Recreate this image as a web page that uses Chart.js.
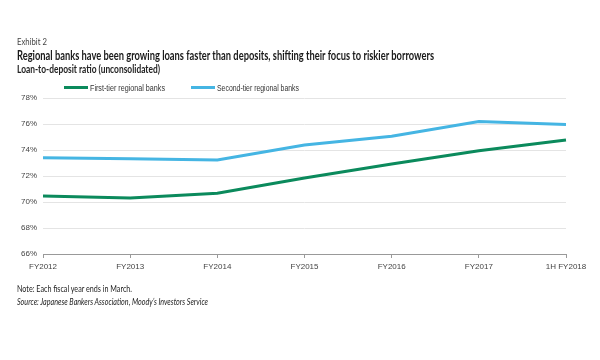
<!DOCTYPE html>
<html><head><meta charset="utf-8">
<script src="https://cdn.jsdelivr.net/npm/chart.js@4"></script>
<style>
html,body{margin:0;padding:0;background:#fff;}
#wrap{position:relative;width:600px;height:360px;overflow:hidden;}
canvas{position:absolute;left:0;top:0;}
.t{position:absolute;left:17px;white-space:nowrap;font-family:Lato,"Open Sans",sans-serif;color:#1a1a1a;transform-origin:0 0;}
#ex{top:36px;font-size:9px;color:#444;}
#title{top:47px;font-size:13px;font-weight:bold;}
#sub{top:63px;font-size:10.5px;font-weight:bold;color:#222;}
#note{top:283px;font-size:9.5px;color:#222;}
#src{top:296px;font-size:9.5px;font-style:italic;color:#222;}
.lg{position:absolute;top:83px;font-family:"Liberation Sans",Arial,sans-serif;font-size:9px;color:#333;white-space:nowrap;}
.lg i{display:inline-block;width:24px;height:3px;vertical-align:middle;margin-right:2px;position:relative;top:-1px;}
.lg span{display:inline-block;transform-origin:0 50%;}
</style></head>
<body><div id="wrap">
<canvas id="c" width="600" height="360"></canvas>
<div class="t" id="ex" data-w="30">Exhibit 2</div>
<div class="t" id="title" data-w="417">Regional banks have been growing loans faster than deposits, shifting their focus to riskier borrowers</div>
<div class="t" id="sub" data-w="143">Loan-to-deposit ratio (unconsolidated)</div>
<div class="lg" style="left:64px"><i style="background:#0B8A5C"></i><span data-w="75">First-tier regional banks</span></div>
<div class="lg" style="left:191px"><i style="background:#45B5E3"></i><span data-w="82">Second-tier regional banks</span></div>
<div class="t" id="note" data-w="115">Note: Each fiscal year ends in March.</div>
<div class="t" id="src" data-w="191">Source: Japanese Bankers Association, Moody’s Investors Service</div>
</div>
<script>
const categories = ["FY2012","FY2013","FY2014","FY2015","FY2016","FY2017","1H FY2018"];
const firstTier = [70.46, 70.3, 70.67, 71.85, 72.92, 73.95, 74.77];
const secondTier = [73.4, 73.33, 73.23, 74.38, 75.05, 76.2, 75.97];
const seriesNames = ["First-tier regional banks","Second-tier regional banks"];
const yMin = 66, yMax = 78, yStep = 2;

document.querySelectorAll('[data-w]').forEach(el => {
  const w = el.getBoundingClientRect().width;
  const target = parseFloat(el.dataset.w);
  if (w > 0) el.style.transform = 'scaleX(' + (target / w) + ')';
});

new Chart(document.getElementById('c'), {
  type: 'line',
  data: {
    labels: categories,
    datasets: [
      {label: seriesNames[0], data: firstTier, borderColor: '#0B8A5C', backgroundColor: '#0B8A5C', borderWidth: 3, pointRadius: 0, tension: 0},
      {label: seriesNames[1], data: secondTier, borderColor: '#45B5E3', backgroundColor: '#45B5E3', borderWidth: 3, pointRadius: 0, tension: 0}
    ]
  },
  options: {
    responsive: false,
    animation: false,
    layout: {padding: {left: 0, right: 34, top: 98, bottom: 85}},
    plugins: {legend: {display: false}, tooltip: {enabled: false}},
    scales: {
      x: {
        offset: false,
        grid: {display: true, drawOnChartArea: false, drawTicks: true, tickLength: 4, color: '#999'},
        border: {display: true, color: '#999', width: 1},
        ticks: {color: '#444', font: {family: 'Liberation Sans, Arial, sans-serif', size: 8}, padding: 4, maxRotation: 0, autoSkip: false},
        afterFit: s => { s.height = 21; }
      },
      y: {
        min: yMin, max: yMax,
        grid: {color: '#e4e4e4', drawTicks: false},
        border: {display: false},
        ticks: {stepSize: yStep, color: '#444', padding: 6, font: {family: 'Liberation Sans, Arial, sans-serif', size: 8}, callback: v => v + '%'},
        afterFit: s => { s.width = 43; }
      }
    }
  }
});
</script>
</body></html>
